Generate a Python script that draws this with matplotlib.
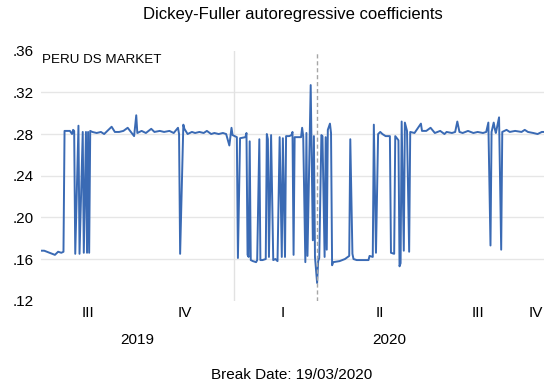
import matplotlib
matplotlib.use('Agg')
import matplotlib.pyplot as plt
import matplotlib.dates as mdates
import matplotlib.transforms as mtransforms
import pandas as pd

plt.rcParams['font.family'] = ['Liberation Sans', 'DejaVu Sans']

# values (date, coefficient)
dates = [
    '2019-07-05', '2019-07-08', '2019-07-13', '2019-07-18', '2019-07-21', '2019-07-24',
    '2019-07-26', '2019-07-27', '2019-08-01', '2019-08-03', '2019-08-04', '2019-08-05',
    '2019-08-06', '2019-08-09', '2019-08-10', '2019-08-13', '2019-08-14', '2019-08-16',
    '2019-08-17', '2019-08-18', '2019-08-19', '2019-08-20', '2019-08-22', '2019-08-26',
    '2019-08-30', '2019-09-02', '2019-09-05', '2019-09-09', '2019-09-12', '2019-09-16',
    '2019-09-20', '2019-09-24', '2019-09-27', '2019-09-30', '2019-10-02', '2019-10-03',
    '2019-10-07', '2019-10-11', '2019-10-16', '2019-10-19', '2019-10-24', '2019-10-28',
    '2019-11-02', '2019-11-06', '2019-11-10', '2019-11-11', '2019-11-12', '2019-11-15',
    '2019-11-16', '2019-11-19', '2019-11-23', '2019-11-26', '2019-11-30', '2019-12-04',
    '2019-12-07', '2019-12-11', '2019-12-14', '2019-12-18', '2019-12-22', '2019-12-25',
    '2019-12-28', '2019-12-30', '2019-12-31',
    '2020-01-04', '2020-01-05', '2020-01-07', '2020-01-12', '2020-01-13', '2020-01-14',
    '2020-01-15', '2020-01-16', '2020-01-17', '2020-01-19', '2020-01-22', '2020-01-23',
    '2020-01-25', '2020-01-26', '2020-01-28', '2020-01-31', '2020-02-01', '2020-02-02',
    '2020-02-03', '2020-02-05', '2020-02-07', '2020-02-09', '2020-02-11', '2020-02-13',
    '2020-02-15', '2020-02-16', '2020-02-18', '2020-02-19', '2020-02-22', '2020-02-24',
    '2020-02-25', '2020-02-26', '2020-02-27', '2020-03-01', '2020-03-04', '2020-03-05',
    '2020-03-06', '2020-03-08', '2020-03-09', '2020-03-10', '2020-03-13', '2020-03-15',
    '2020-03-16', '2020-03-17', '2020-03-19', '2020-03-20', '2020-03-21', '2020-03-23',
    '2020-03-24', '2020-03-26', '2020-03-27', '2020-03-28', '2020-03-29', '2020-03-31',
    '2020-04-01', '2020-04-02', '2020-04-03', '2020-04-09', '2020-04-14', '2020-04-18',
    '2020-04-19', '2020-04-21', '2020-04-22', '2020-04-25', '2020-04-30', '2020-05-06',
    '2020-05-07', '2020-05-10', '2020-05-11', '2020-05-13', '2020-05-15', '2020-05-17',
    '2020-05-19', '2020-05-22', '2020-05-26', '2020-05-27', '2020-05-30', '2020-05-31',
    '2020-06-03', '2020-06-04', '2020-06-05', '2020-06-06', '2020-06-08', '2020-06-09',
    '2020-06-11', '2020-06-13', '2020-06-14', '2020-06-18', '2020-06-24', '2020-06-25',
    '2020-06-29', '2020-07-03', '2020-07-07', '2020-07-12', '2020-07-16', '2020-07-18',
    '2020-07-23', '2020-07-26', '2020-07-28', '2020-07-30', '2020-08-02', '2020-08-07',
    '2020-08-12', '2020-08-16', '2020-08-21', '2020-08-24', '2020-08-26', '2020-08-28',
    '2020-08-29', '2020-08-31', '2020-09-01', '2020-09-02', '2020-09-05', '2020-09-07',
    '2020-09-08', '2020-09-12', '2020-09-15', '2020-09-20', '2020-09-26', '2020-09-29',
    '2020-10-02', '2020-10-07', '2020-10-11', '2020-10-15', '2020-10-17',
]
coef = [
    .168, .168, .166, .164, .167, .166,
    .167, .283, .283, .280, .284, .283,
    .165, .288, .165, .282, .166, .282,
    .166, .282, .166, .283, .282, .281,
    .282, .280, .283, .287, .282, .282,
    .283, .286, .282, .278, .298, .281,
    .283, .281, .285, .282, .283, .282,
    .283, .281, .286, .280, .165, .289,
    .285, .280, .282, .281, .282, .281,
    .283, .280, .281, .280, .281, .280,
    .269, .286, .279,
    .277, .161, .276, .277, .281, .164,
    .162, .273, .159, .158, .157, .159,
    .275, .159, .159, .160, .280, .275,
    .162, .279, .159, .160, .158, .277,
    .162, .276, .162, .278, .278, .279,
    .282, .164, .277, .277, .277, .286,
    .278, .157, .281, .163, .327, .178,
    .278, .162, .137, .158, .161, .279,
    .278, .162, .277, .169, .284, .290,
    .281, .154, .157, .158, .160, .163,
    .275, .165, .160, .159, .159, .159,
    .163, .162, .289, .166, .280, .282,
    .280, .278, .278, .166, .165, .278,
    .274, .153, .156, .292, .168, .291,
    .283, .167, .282, .281, .290, .283,
    .283, .286, .281, .283, .280, .282,
    .281, .282, .292, .282, .281, .283,
    .281, .282, .281, .282, .291, .173,
    .282, .291, .285, .281, .296, .169,
    .282, .284, .282, .283, .282, .284,
    .282, .281, .280, .282, .282,
]

yticks = [.12, .16, .20, .24, .28, .32, .36]
quarters = ['III', 'IV', 'I', 'II', 'III', 'IV']
years = ['2019', '2020']
break_date = '2020-03-19'
series_name = 'PERU DS MARKET'

d = pd.to_datetime(dates)

fig = plt.figure(figsize=(5.47, 3.88), dpi=100)
ax = fig.add_axes([41/547, 1 - 300.7/388, 503/547, 250/388])

for y in yticks[1:-1]:
    ax.axhline(y, color='#e6e6e6', lw=1, zorder=0)
ax.axvline(pd.Timestamp('2020-01-01'), color='#e2e2e2', lw=1, zorder=0)
ax.plot(d, coef, color='#3a6ab4', lw=1.4, zorder=2)
ax.axvline(pd.Timestamp(break_date), color='#a6a6a6', lw=1, ls=(0, (3, 2)), zorder=3)

ax.set_xlim(d[0], d[-1])
ax.set_ylim(yticks[0], yticks[-1])
ax.set_yticks(yticks)
ax.set_yticklabels([f'{v:.2f}'[1:] for v in yticks])
ax.tick_params(axis='y', length=0, pad=5, labelsize=11)
ax.set_xticks([])
for s in ax.spines.values():
    s.set_visible(False)

trans = mtransforms.blended_transform_factory(ax.transData, ax.transAxes)
x0, x1 = ax.get_xlim()

qb = pd.date_range('2019-07-01', '2021-01-01', freq='QS')
for i, lab in enumerate(quarters):
    a = max(mdates.date2num(qb[i]), x0)
    b = min(mdates.date2num(qb[i + 1]), x1)
    ax.text((a + b) / 2, -0.049, lab, transform=trans, ha='center', va='center', fontsize=11)

yb = pd.to_datetime(['2019-01-01', '2020-01-01', '2021-01-01'])
for i, lab in enumerate(years):
    a = max(mdates.date2num(yb[i]), x0)
    b = min(mdates.date2num(yb[i + 1]), x1)
    ax.text((a + b) / 2, -0.157, lab, transform=trans, ha='center', va='center', fontsize=11)

ax.text(0.002, 0.963, series_name, transform=ax.transAxes, ha='left', va='center', fontsize=9.6)
fig.text(293/547, 1 - 15/388, 'Dickey-Fuller autoregressive coefficients', ha='center', va='center', fontsize=12)
fig.text(292/547, 1 - 375/388, 'Break Date: ' + pd.Timestamp(break_date).strftime('%d/%m/%Y'),
         ha='center', va='center', fontsize=11)

fig.savefig('out.png', dpi=100)
